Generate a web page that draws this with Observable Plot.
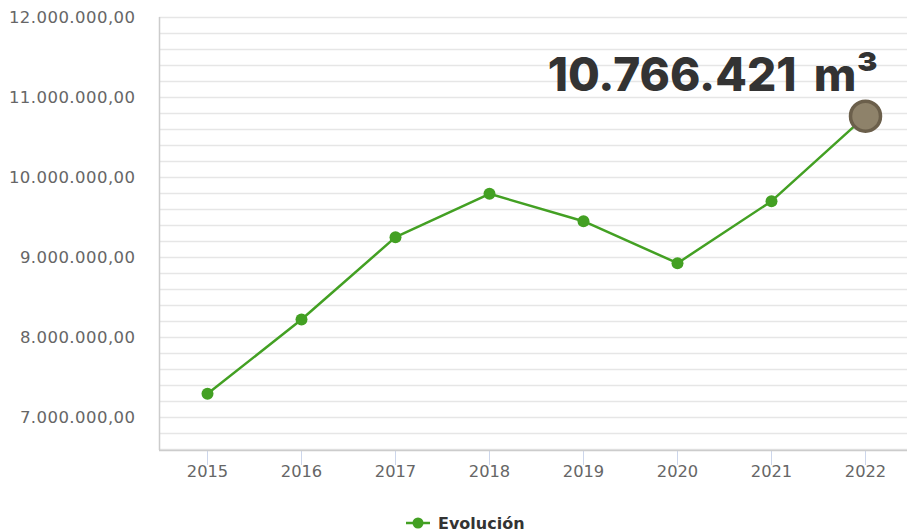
<!DOCTYPE html>
<html>
<head>
<meta charset="utf-8">
<script src="https://cdn.jsdelivr.net/npm/d3@7"></script>
<script src="https://cdn.jsdelivr.net/npm/@observablehq/plot@0.6"></script>
<style>
  html, body { margin: 0; padding: 0; background: #fff; }
  #wrap { position: relative; width: 907px; height: 531px; overflow: hidden; font-family: "DejaVu Sans", sans-serif; }
  #legend { position: absolute; left: 405px; top: 512px; height: 22px; display: flex; align-items: center; }
  #legend span { font: bold 16px "DejaVu Sans", sans-serif; color: #333; margin-left: 7px; }
</style>
</head>
<body>
<div id="wrap">
  <div id="chart"></div>
  <div id="legend"></div>
</div>
<script>
const years = ["2015", "2016", "2017", "2018", "2019", "2020", "2021", "2022"];
const values = [7296000, 8225000, 9254000, 9796000, 9454000, 8929000, 9704000, 10766421];
const yTicks = [7000000, 8000000, 9000000, 10000000, 11000000, 12000000];
const seriesName = "Evolución";
const highlightLabel = "10.766.421 m³";

const data = years.map((y, i) => ({year: y, value: values[i]}));
const last = [data[data.length - 1]];

const esLocale = d3.formatLocale({decimal: ",", thousands: ".", grouping: [3], currency: ["", ""]});
const fmt = esLocale.format(",.2f");

const yMin = 6587500, yMax = 12000000;
const minorGrid = d3.range(6600000, 12000001, 200000);

const green = "#43a023";

const chart = Plot.plot({
  width: 907,
  height: 500,
  marginLeft: 159,
  marginRight: 0,
  marginTop: 17,
  marginBottom: 50,
  style: {fontFamily: "DejaVu Sans, sans-serif", fontSize: "16.5px", background: "#fff"},
  x: {type: "point", domain: years, range: [205, 867], padding: 0},
  y: {domain: [yMin, yMax]},
  marks: [
    Plot.ruleY(minorGrid, {stroke: "#e6e6e6", strokeWidth: 1.5}),
    Plot.axisY({ticks: yTicks, tickFormat: fmt, tickSize: 0, tickPadding: 24, fill: "#666", fontSize: 16.5, label: null}),
    Plot.axisX({tickSize: 15, stroke: "#ccd6eb", fill: "#666", fontSize: 16.3, tickPadding: 0, label: null}),
    Plot.ruleY([yMin], {stroke: "#ccc", strokeWidth: 1.5}),
    Plot.line(data, {x: "year", y: "value", stroke: green, strokeWidth: 2.5}),
    Plot.dot(data.slice(0, -1), {x: "year", y: "value", r: 6, fill: green, stroke: "none"}),
    Plot.dot(last, {x: "year", y: "value", r: 15, fill: "#8e826a", stroke: "#6b5f4b", strokeWidth: 3.5}),
    Plot.text(last, {x: "year", y: "value", text: () => highlightLabel, textAnchor: "end", lineAnchor: "bottom", dx: 13, dy: -25, fontSize: 46, fontWeight: 800, fontFamily: "Inter, sans-serif", fill: "#333"})
  ]
});
const svg = d3.select(chart);
svg.append("line").attr("x1", 159.5).attr("x2", 159.5).attr("y1", 17).attr("y2", 450).attr("stroke", "#ccc").attr("stroke-width", 1.5);
svg.selectAll('g[aria-label="y-axis tick label"] text').style("letter-spacing", "0.45px");
svg.selectAll('g[aria-label="text"] text').style("word-spacing", "7px");
document.getElementById("chart").appendChild(chart);

const leg = document.getElementById("legend");
leg.innerHTML = `<svg width="26" height="14"><line x1="1" x2="25" y1="7" y2="7" stroke="${green}" stroke-width="2.5"/><circle cx="13" cy="7" r="5.5" fill="${green}"/></svg><span>${seriesName}</span>`;
</script>
</body>
</html>
